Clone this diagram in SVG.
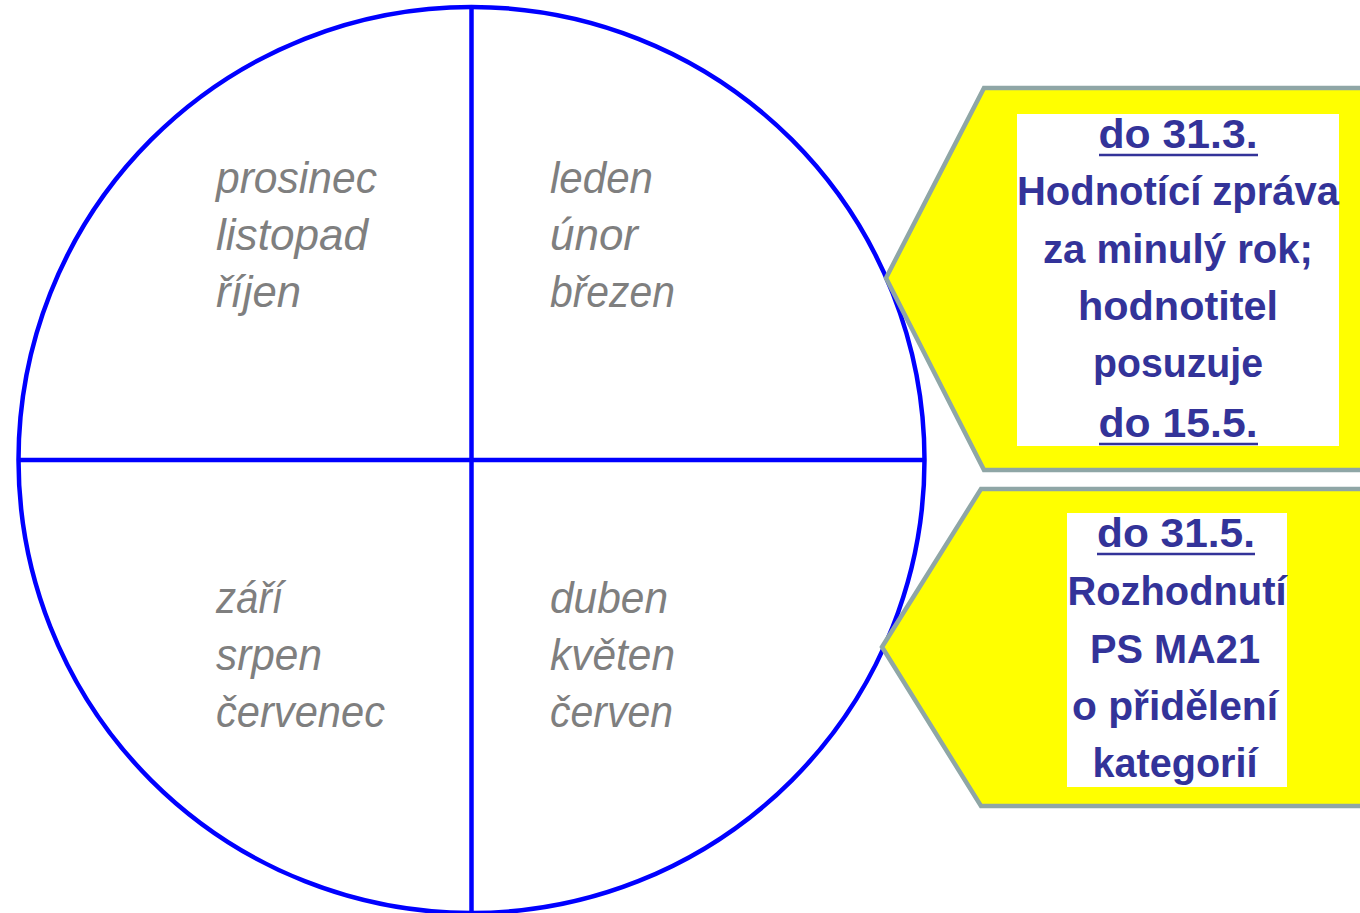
<svg xmlns="http://www.w3.org/2000/svg" width="1360" height="913" viewBox="0 0 1360 913">
<style>
.ring{fill:none;stroke:#0000FF;stroke-width:4.5}
.month{font-family:"Liberation Sans",Arial,sans-serif;font-style:italic;font-size:44px;fill:#7F7F7F}
.callout{fill:#FFFF00;stroke:#8FA6A6;stroke-width:4.5;stroke-linejoin:miter}
.box{fill:#FFFFFF}
.ct{font-family:"Liberation Sans",Arial,sans-serif;font-weight:bold;font-size:40px;fill:#333399;text-anchor:middle}
.ul{stroke:#333399;stroke-width:2.5}
</style>
<rect width="1360" height="913" fill="#FFFFFF"/>
<g id="circle">
<circle class="ring" cx="471.5" cy="460" r="453"/>
</g>
<g id="connectors">
<line class="ring" x1="471.5" y1="7" x2="471.5" y2="913"/>
<line class="ring" x1="18.5" y1="460" x2="924.5" y2="460"/>
</g>
<g id="q-winter">
<text class="month" x="216" y="193" textLength="161" lengthAdjust="spacingAndGlyphs">prosinec</text>
<text class="month" x="216" y="250" textLength="152" lengthAdjust="spacingAndGlyphs">listopad</text>
<text class="month" x="216" y="307" textLength="85" lengthAdjust="spacingAndGlyphs">říjen</text>
</g>
<g id="q-spring">
<text class="month" x="550" y="193" textLength="103" lengthAdjust="spacingAndGlyphs">leden</text>
<text class="month" x="550" y="250" textLength="88" lengthAdjust="spacingAndGlyphs">únor</text>
<text class="month" x="550" y="307" textLength="125" lengthAdjust="spacingAndGlyphs">březen</text>
</g>
<g id="q-autumn">
<text class="month" x="216" y="613" textLength="67" lengthAdjust="spacingAndGlyphs">září</text>
<text class="month" x="216" y="670" textLength="106" lengthAdjust="spacingAndGlyphs">srpen</text>
<text class="month" x="216" y="727" textLength="169" lengthAdjust="spacingAndGlyphs">červenec</text>
</g>
<g id="q-summer">
<text class="month" x="550" y="613" textLength="118" lengthAdjust="spacingAndGlyphs">duben</text>
<text class="month" x="550" y="670" textLength="125" lengthAdjust="spacingAndGlyphs">květen</text>
<text class="month" x="550" y="727" textLength="123" lengthAdjust="spacingAndGlyphs">červen</text>
</g>
<g id="callout-1">
<polygon class="callout" points="886,278 984,88 1372,88 1372,470 984,470"/>
<rect class="box" x="1017" y="114" width="322" height="332"/>
<text class="ct" x="1178" y="148" textLength="159" lengthAdjust="spacingAndGlyphs">do 31.3.</text>
<line class="ul" x1="1099" y1="155" x2="1258" y2="155"/>
<text class="ct" x="1178" y="205" textLength="322" lengthAdjust="spacingAndGlyphs">Hodnotící zpráva</text>
<text class="ct" x="1178" y="263" textLength="270" lengthAdjust="spacingAndGlyphs">za minulý rok;</text>
<text class="ct" x="1178" y="320" textLength="200" lengthAdjust="spacingAndGlyphs">hodnotitel</text>
<text class="ct" x="1178" y="377" textLength="170" lengthAdjust="spacingAndGlyphs">posuzuje</text>
<text class="ct" x="1178" y="437" textLength="159" lengthAdjust="spacingAndGlyphs">do 15.5.</text>
<line class="ul" x1="1099" y1="444" x2="1258" y2="444"/>
</g>
<g id="callout-2">
<polygon class="callout" points="882,647 981,489 1372,489 1372,806 981,806"/>
<rect class="box" x="1067" y="513" width="220" height="274"/>
<text class="ct" x="1176" y="547" textLength="158" lengthAdjust="spacingAndGlyphs">do 31.5.</text>
<line class="ul" x1="1097" y1="554" x2="1255" y2="554"/>
<text class="ct" x="1177" y="605" textLength="219" lengthAdjust="spacingAndGlyphs">Rozhodnutí</text>
<text class="ct" x="1175" y="663" textLength="170" lengthAdjust="spacingAndGlyphs">PS MA21</text>
<text class="ct" x="1175" y="720" textLength="206" lengthAdjust="spacingAndGlyphs">o přidělení</text>
<text class="ct" x="1175" y="777" textLength="165" lengthAdjust="spacingAndGlyphs">kategorií</text>
</g>
</svg>
